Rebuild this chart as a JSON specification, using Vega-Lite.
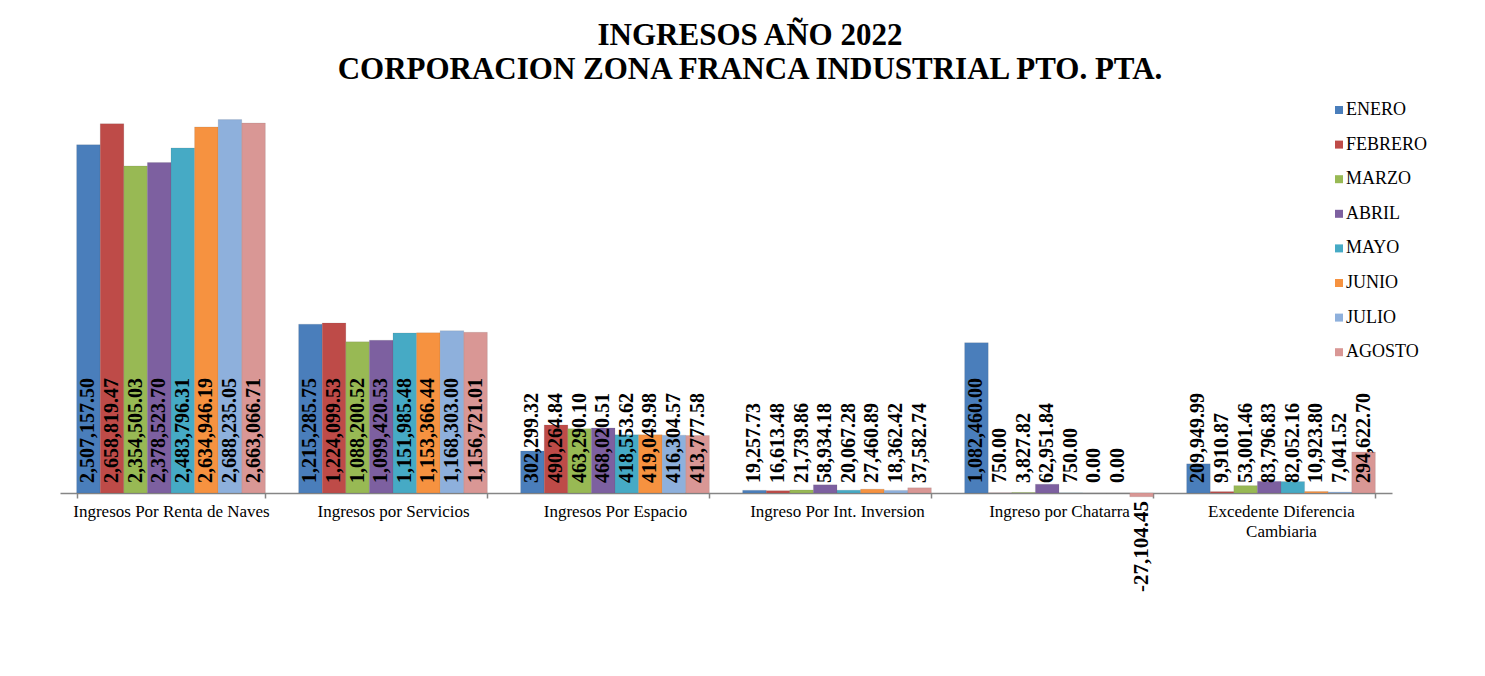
{
  "$schema": "https://vega.github.io/schema/vega-lite/v6.json",
  "width": 1332,
  "height": 382,
  "autosize": {"type": "none"},
  "padding": {"left": 60, "top": 111, "right": 93, "bottom": 183},
  "background": "white",
  "config": {
    "view": {"stroke": null},
    "font": "Liberation Serif",
    "locale": {"number": {"decimal": ".", "thousands": ",", "grouping": [3], "currency": ["$", ""], "minus": "-"}}
  },
  "title": {
    "text": ["INGRESOS AÑO 2022", "CORPORACION ZONA FRANCA INDUSTRIAL PTO. PTA."],
    "font": "Liberation Serif",
    "fontSize": 31,
    "fontWeight": "bold",
    "color": "black",
    "anchor": "middle",
    "lineHeight": 34,
    "offset": 15,
    "dx": 24
  },
  "data": {
    "values": [
      {"cat": "Ingresos Por Renta de Naves", "mes": "ENERO", "valor": 2507157.50},
      {"cat": "Ingresos Por Renta de Naves", "mes": "FEBRERO", "valor": 2658819.47},
      {"cat": "Ingresos Por Renta de Naves", "mes": "MARZO", "valor": 2354505.03},
      {"cat": "Ingresos Por Renta de Naves", "mes": "ABRIL", "valor": 2378523.70},
      {"cat": "Ingresos Por Renta de Naves", "mes": "MAYO", "valor": 2483796.31},
      {"cat": "Ingresos Por Renta de Naves", "mes": "JUNIO", "valor": 2634946.19},
      {"cat": "Ingresos Por Renta de Naves", "mes": "JULIO", "valor": 2688235.05},
      {"cat": "Ingresos Por Renta de Naves", "mes": "AGOSTO", "valor": 2663066.71},
      {"cat": "Ingresos por Servicios", "mes": "ENERO", "valor": 1215285.75},
      {"cat": "Ingresos por Servicios", "mes": "FEBRERO", "valor": 1224099.53},
      {"cat": "Ingresos por Servicios", "mes": "MARZO", "valor": 1088200.52},
      {"cat": "Ingresos por Servicios", "mes": "ABRIL", "valor": 1099420.53},
      {"cat": "Ingresos por Servicios", "mes": "MAYO", "valor": 1151985.48},
      {"cat": "Ingresos por Servicios", "mes": "JUNIO", "valor": 1153366.44},
      {"cat": "Ingresos por Servicios", "mes": "JULIO", "valor": 1168303.00},
      {"cat": "Ingresos por Servicios", "mes": "AGOSTO", "valor": 1156721.01},
      {"cat": "Ingresos Por Espacio", "mes": "ENERO", "valor": 302299.32},
      {"cat": "Ingresos Por Espacio", "mes": "FEBRERO", "valor": 490264.84},
      {"cat": "Ingresos Por Espacio", "mes": "MARZO", "valor": 463290.10},
      {"cat": "Ingresos Por Espacio", "mes": "ABRIL", "valor": 468020.51},
      {"cat": "Ingresos Por Espacio", "mes": "MAYO", "valor": 418553.62},
      {"cat": "Ingresos Por Espacio", "mes": "JUNIO", "valor": 419049.98},
      {"cat": "Ingresos Por Espacio", "mes": "JULIO", "valor": 416304.57},
      {"cat": "Ingresos Por Espacio", "mes": "AGOSTO", "valor": 413777.58},
      {"cat": "Ingreso Por Int. Inversion", "mes": "ENERO", "valor": 19257.73},
      {"cat": "Ingreso Por Int. Inversion", "mes": "FEBRERO", "valor": 16613.48},
      {"cat": "Ingreso Por Int. Inversion", "mes": "MARZO", "valor": 21739.86},
      {"cat": "Ingreso Por Int. Inversion", "mes": "ABRIL", "valor": 58934.18},
      {"cat": "Ingreso Por Int. Inversion", "mes": "MAYO", "valor": 20067.28},
      {"cat": "Ingreso Por Int. Inversion", "mes": "JUNIO", "valor": 27460.89},
      {"cat": "Ingreso Por Int. Inversion", "mes": "JULIO", "valor": 18362.42},
      {"cat": "Ingreso Por Int. Inversion", "mes": "AGOSTO", "valor": 37582.74},
      {"cat": "Ingreso por Chatarra", "mes": "ENERO", "valor": 1082460.00},
      {"cat": "Ingreso por Chatarra", "mes": "FEBRERO", "valor": 750.00},
      {"cat": "Ingreso por Chatarra", "mes": "MARZO", "valor": 3827.82},
      {"cat": "Ingreso por Chatarra", "mes": "ABRIL", "valor": 62951.84},
      {"cat": "Ingreso por Chatarra", "mes": "MAYO", "valor": 750.00},
      {"cat": "Ingreso por Chatarra", "mes": "JUNIO", "valor": 0.00},
      {"cat": "Ingreso por Chatarra", "mes": "JULIO", "valor": 0.00},
      {"cat": "Ingreso por Chatarra", "mes": "AGOSTO", "valor": -27104.45},
      {"cat": "Excedente Diferencia Cambiaria", "mes": "ENERO", "valor": 209949.99},
      {"cat": "Excedente Diferencia Cambiaria", "mes": "FEBRERO", "valor": 9910.87},
      {"cat": "Excedente Diferencia Cambiaria", "mes": "MARZO", "valor": 53001.46},
      {"cat": "Excedente Diferencia Cambiaria", "mes": "ABRIL", "valor": 83796.83},
      {"cat": "Excedente Diferencia Cambiaria", "mes": "MAYO", "valor": 82052.16},
      {"cat": "Excedente Diferencia Cambiaria", "mes": "JUNIO", "valor": 10923.80},
      {"cat": "Excedente Diferencia Cambiaria", "mes": "JULIO", "valor": 7041.52},
      {"cat": "Excedente Diferencia Cambiaria", "mes": "AGOSTO", "valor": 294622.70}
    ]
  },
  "encoding": {
    "x": {
      "field": "cat",
      "type": "nominal",
      "sort": ["Ingresos Por Renta de Naves", "Ingresos por Servicios", "Ingresos Por Espacio", "Ingreso Por Int. Inversion", "Ingreso por Chatarra", "Excedente Diferencia Cambiaria"],
      "scale": {"paddingInner": 0.15, "paddingOuter": 0.075},
      "axis": {
        "title": null,
        "labelAngle": 0,
        "labelFont": "Liberation Serif",
        "labelFontSize": 17,
        "labelColor": "black",
        "labelPadding": 5,
        "labelLimit": 400,
        "labelLineHeight": 20,
        "labelExpr": "datum.label == 'Excedente Diferencia Cambiaria' ? ['Excedente Diferencia', 'Cambiaria'] : datum.label",
        "domainColor": "#868686",
        "domainWidth": 1.5,
        "tickColor": "#868686",
        "tickBand": "extent",
        "tickSize": 5,
        "tickWidth": 1.5
      }
    },
    "xOffset": {
      "field": "mes",
      "type": "nominal",
      "sort": ["ENERO", "FEBRERO", "MARZO", "ABRIL", "MAYO", "JUNIO", "JULIO", "AGOSTO"]
    }
  },
  "layer": [
    {
      "mark": {"type": "bar", "stroke": "#555555", "strokeOpacity": 0.25, "strokeWidth": 0.5},
      "encoding": {
        "y": {
          "field": "valor",
          "type": "quantitative",
          "scale": {"domain": [0, 2750000], "nice": false},
          "axis": null
        },
        "color": {
          "field": "mes",
          "type": "nominal",
          "sort": ["ENERO", "FEBRERO", "MARZO", "ABRIL", "MAYO", "JUNIO", "JULIO", "AGOSTO"],
          "scale": {
            "domain": ["ENERO", "FEBRERO", "MARZO", "ABRIL", "MAYO", "JUNIO", "JULIO", "AGOSTO"],
            "range": ["#4a7ebb", "#be4b48", "#98b954", "#7d60a0", "#46aac5", "#f69240", "#8eb0dc", "#d99795"]
          },
          "legend": {
            "title": null,
            "orient": "none",
            "legendX": 1270,
            "legendY": -10,
            "symbolType": "square",
            "symbolSize": 64,
            "symbolStrokeWidth": 0,
            "labelFont": "Liberation Serif",
            "labelFontSize": 18,
            "labelColor": "black",
            "labelOffset": -2,
            "rowPadding": 16.6
          }
        }
      }
    },
    {
      "transform": [{"filter": "datum.valor >= 0"}],
      "mark": {"type": "text", "angle": 270, "align": "left", "baseline": "middle", "dx": 10, "font": "Liberation Serif", "fontSize": 20, "fontWeight": "bold", "color": "black"},
      "encoding": {
        "y": {"datum": 0, "type": "quantitative"},
        "text": {"field": "valor", "type": "quantitative", "format": ",.2f"}
      }
    },
    {
      "transform": [{"filter": "datum.valor < 0"}],
      "mark": {"type": "text", "angle": 270, "align": "right", "baseline": "middle", "dx": -8, "font": "Liberation Serif", "fontSize": 21, "fontWeight": "bold", "color": "black"},
      "encoding": {
        "y": {"datum": 0, "type": "quantitative"},
        "text": {"field": "valor", "type": "quantitative", "format": ",.2f"}
      }
    }
  ]
}
